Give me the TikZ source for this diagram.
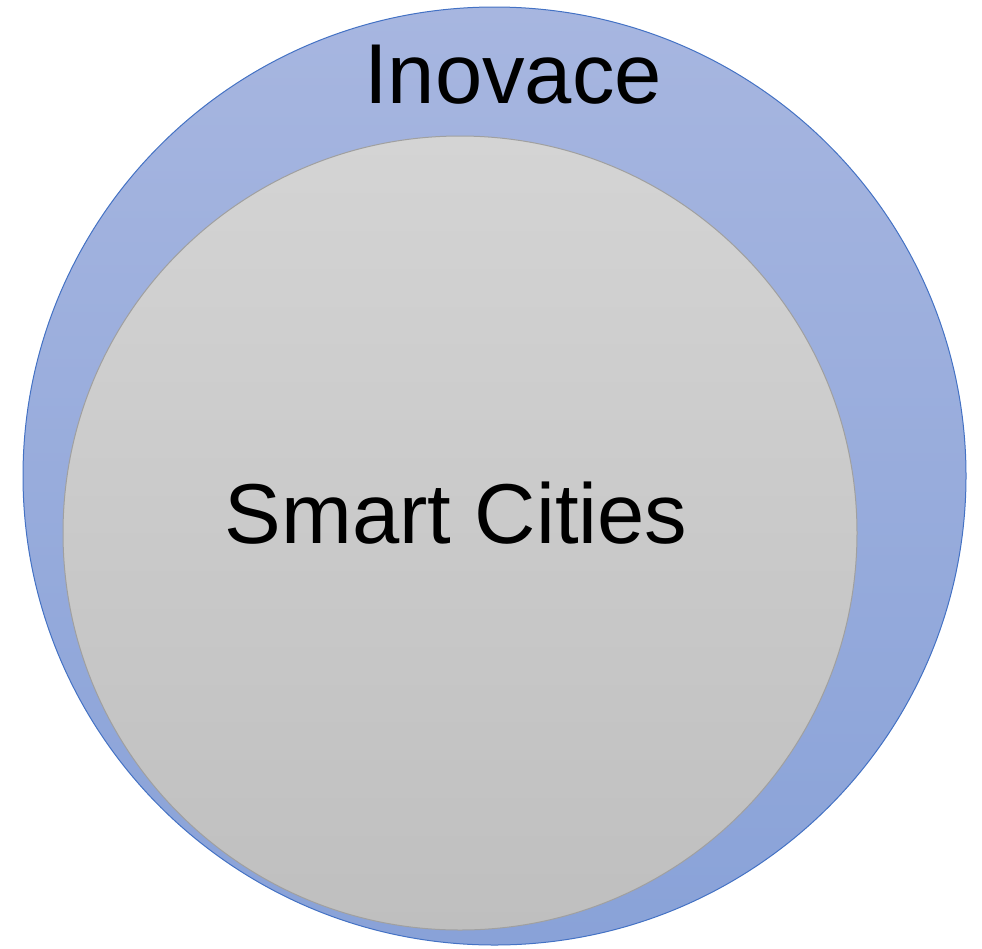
\documentclass[tikz,border=0pt]{standalone}
\usepackage{fontspec}
\setmainfont{Liberation Sans}
\usetikzlibrary{shapes.geometric}
\definecolor{outerTop}{HTML}{A7B6E0}
\definecolor{outerBot}{HTML}{89A2D8}
\definecolor{outerLine}{HTML}{4472C4}
\definecolor{innerTop}{HTML}{D4D4D4}
\definecolor{innerBot}{HTML}{BFBFBF}
\definecolor{innerLine}{HTML}{A0A0A0}
\tikzset{
  outerset/.style={ellipse, inner sep=0pt, draw=outerLine, line width=1pt,
    top color=outerTop, bottom color=outerBot, minimum width=943pt, minimum height=938pt},
  innerset/.style={ellipse, inner sep=0pt, draw=innerLine, line width=1pt,
    top color=innerTop, bottom color=innerBot, minimum width=794pt, minimum height=794pt},
  lbl/.style={font=\fontsize{85pt}{90pt}\selectfont, text=black, anchor=base, inner sep=0pt}
}
\begin{document}
\begin{tikzpicture}[x=1pt,y=-1pt]
  \useasboundingbox (0,0) rectangle (982,948);
  \node[outerset] (outer) at (494.5,476) {};
  \node[innerset] (inner) at (460,533) {};
  \node[lbl] (t1) at (513,103) {Inovace};
  \node[lbl] (t2) at (456,543) {Smart Cities};
\end{tikzpicture}
\end{document}
